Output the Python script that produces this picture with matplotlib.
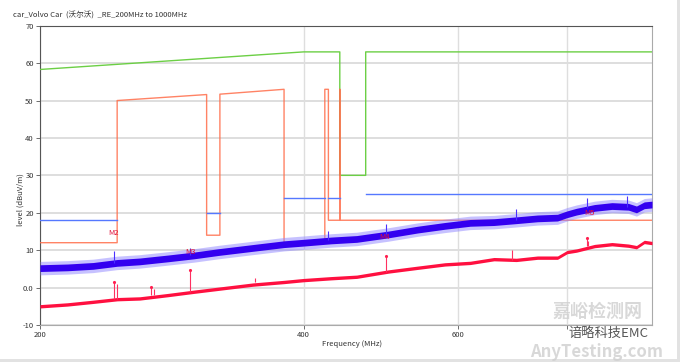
import numpy as np
import matplotlib
matplotlib.use('Agg')
import matplotlib.pyplot as plt
from matplotlib.patches import Rectangle

plt.rcParams['font.family'] = ['Noto Sans CJK SC', 'DejaVu Sans']

# limit lines (MHz, dBuV/m)
green_f = [200, 400, 440, 440, 471, 471, 1000]
green_v = [58.3, 63, 63, 30, 30, 63, 63]

orange_f = [200, 245, 245, 310, 310, 321, 321, 380, 380, 423, 423, 427, 427, 440, 440, 440, 1000]
orange_v = [12, 12, 50, 51.6, 14, 14, 51.7, 53, 12, 12, 53, 53, 18, 18, 53, 18, 18]

blue_lim_f = [200, 245, np.nan, 310, 321, np.nan, 380, 423, np.nan, 427, 440, np.nan, 471, 1000]
blue_lim_v = [18, 18, np.nan, 20, 20, np.nan, 24, 24, np.nan, 24, 24, np.nan, 25, 25]

# measured traces (center of the noisy band)
trace_f = [200, 215, 230, 245, 260, 280, 300, 320, 350, 380, 400, 430, 460, 500,
           540, 580, 620, 660, 700, 740, 780, 800, 820, 860, 900, 940, 960, 980, 1000]
peak_v = [5.2, 5.4, 5.8, 6.6, 7.0, 7.8, 8.6, 9.5, 10.6, 11.6, 12.0, 12.6, 13.0, 14.2,
          15.5, 16.5, 17.3, 17.5, 18.0, 18.5, 18.7, 19.6, 20.3, 21.3, 21.8, 21.6, 20.9, 22.0, 22.2]
avg_v = [-5.0, -4.5, -3.8, -3.1, -2.9, -2.0, -1.1, -0.3, 0.8, 1.5, 2.0, 2.5, 2.9, 4.3,
         5.3, 6.2, 6.6, 7.6, 7.4, 8.0, 8.0, 9.5, 9.9, 11.1, 11.6, 11.2, 10.8, 12.2, 11.9]
peak_spread = 0.9
peak_fringe = 1.8
avg_spread = 0.45

# narrow spikes
peak_spike_f = [243, 297, 426, 497, 700, 843, 936]
peak_spike_v = [9.8, 10.5, 15.0, 17.0, 21.0, 23.9, 24.5]
avg_spike_f = [243, 245, 268, 270, 297, 352, 497, 692, 842, 846]
avg_spike_v = [1.6, 1.0, 0.2, -0.3, 4.7, 2.6, 8.4, 10.0, 13.2, 12.5]

markers = ['M2', 'M3', 'M4', 'M5']
marker_f = [246, 297, 495, 849]
marker_v = [14.5, 9.4, 13.5, 20.0]

fig = plt.figure(figsize=(6.8, 3.62), dpi=100)
ax = fig.add_axes([0.0588, 0.1022, 0.9, 0.8268])

ax.set_xscale('log')
ax.set_xlim(200, 1000)
ax.set_ylim(-10, 70)

ax.grid(True, axis='y', color='#dedede', linewidth=1.4, zorder=0)
ax.grid(True, axis='x', color='#dedede', linewidth=1.0, zorder=0)

ax.plot(green_f, green_v, color='#6ccf45', lw=1.0, zorder=3)
ax.plot(orange_f, orange_v, color='#ff6d4a', lw=1.0, alpha=0.85, zorder=3)
ax.plot(blue_lim_f, blue_lim_v, color='#5578ff', lw=1.0, zorder=3)

pv = np.array(peak_v)
av = np.array(avg_v)
ax.fill_between(trace_f, pv - peak_fringe, pv + peak_fringe, color='#8f85ff', alpha=0.5, lw=0, zorder=4)
ax.fill_between(trace_f, pv - peak_spread, pv + peak_spread, color='#3300f0', lw=0, zorder=5)
ax.vlines(peak_spike_f, pv.take(np.searchsorted(trace_f, peak_spike_f)), peak_spike_v,
          color='#4a30ff', lw=0.8, zorder=5)

ax.fill_between(trace_f, av - avg_spread, av + avg_spread, color='#ff1040', lw=0, zorder=5)
ax.vlines(avg_spike_f, av.take(np.searchsorted(trace_f, avg_spike_f)), avg_spike_v,
          color='#ff3060', lw=0.8, zorder=5)
ax.plot(avg_spike_f[::2], avg_spike_v[::2], ls='none', marker='.', ms=2.5, color='#ff2050', zorder=6)

for name, f, v in zip(markers, marker_f, marker_v):
    ha = 'right' if name == 'M2' else 'center'
    ax.text(f, v, name, color='#e0103a', fontsize=5.5, ha=ha, va='center', zorder=7)

ax.set_xticks([200, 400, 600, 800])
ax.set_xticklabels(['200', '400', '600', ''])
ax.xaxis.set_minor_locator(matplotlib.ticker.NullLocator())
ax.set_yticks(range(-10, 71, 10))
ax.set_yticklabels(['-10', '0.0', '10', '20', '30', '40', '50', '60', '70'])
ax.tick_params(labelsize=5.5, length=3, width=0.6, color='#555555', labelcolor='#333333', pad=1.5)

for side in ['left', 'top']:
    ax.spines[side].set_color('#555555')
    ax.spines[side].set_linewidth(0.8)
for side in ['right', 'bottom']:
    ax.spines[side].set_color('#aaaaaa')
    ax.spines[side].set_linewidth(0.8)

fig.text(13 / 680, 1 - 16 / 362, 'car_Volvo Car  (沃尔沃)  _RE_200MHz to 1000MHz',
         fontsize=5.5, color='#333333', va='center')
fig.text(352 / 680, 1 - 344 / 362, 'Frequency (MHz)', fontsize=5.5, color='#333333',
         ha='center', va='center')
fig.text(20.7 / 680, 1 - 200 / 362, 'level (dBuV/m)', fontsize=5.5, color='#333333',
         rotation=90, ha='center', va='center')

# watermark
fig.text(597 / 680, 1 - 311 / 362, '嘉峪检测网', fontsize=13, color='#cfcfcf',
         fontweight='bold', ha='center', va='center', alpha=0.8)
fig.text(608 / 680, 1 - 333 / 362, '谙略科技EMC', fontsize=9.5, color='#555555',
         ha='center', va='center')
fig.text(597 / 680, 1 - 352 / 362, 'AnyTesting.com', fontsize=12, color='#cfcfcf',
         fontweight='bold', style='italic', ha='center', va='center', alpha=0.8)

fig.patches.append(Rectangle((0, 0), 1, 3 / 362, transform=fig.transFigure,
                             facecolor='#e2e2e2', edgecolor='none'))
fig.patches.append(Rectangle((1 - 3 / 680, 0), 3 / 680, 1, transform=fig.transFigure,
                             facecolor='#e2e2e2', edgecolor='none'))

fig.savefig('out.png', dpi=100)
